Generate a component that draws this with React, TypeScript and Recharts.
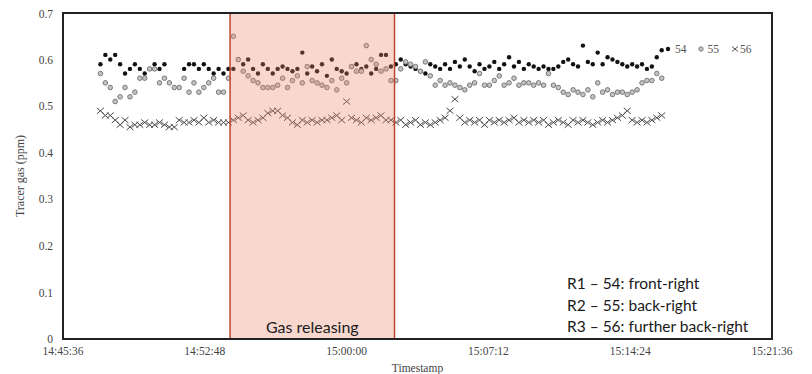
import React from 'react';
import { ScatterChart, Scatter, XAxis, YAxis, ReferenceArea, Label } from 'recharts';

// ---- data ----
const AXIS_START = '14:45:36';
const AXIS_END = '15:21:36';
const xTickLabels = ['14:45:36', '14:52:48', '15:00:00', '15:07:12', '15:14:24', '15:21:36'];
const yTickValues = [0, 0.1, 0.2, 0.3, 0.4, 0.5, 0.6, 0.7];
const FIRST_SAMPLE = '14:47:30';
const SAMPLE_SECONDS = 15;
const GAS_START = '14:54:05';
const GAS_END = '15:02:26';

const series54: (number | null)[] = [
  0.59, 0.61, 0.60, 0.61, 0.59, 0.57, 0.58, 0.59, 0.58, 0.57,
  0.58, 0.59, 0.58, 0.59, null, null, null, 0.58, 0.59, 0.59,
  0.58, 0.59, 0.58, 0.57, 0.58, 0.57,
  0.58, 0.58, 0.60, 0.59, 0.60, 0.58, 0.57, 0.59, 0.58, 0.57,
  0.58, 0.585, 0.58, 0.575, 0.58, 0.615, 0.57, 0.585, 0.575, 0.59,
  0.565, 0.60, 0.58, 0.575, 0.57, 0.585, 0.59, 0.58, 0.585, 0.57,
  0.58, 0.61, 0.61, 0.585,
  0.59, 0.60, 0.59, 0.585, 0.58, 0.575, 0.57, 0.59, 0.585, 0.58,
  0.59, 0.58, 0.595, 0.585, 0.60, 0.585, 0.575, 0.59, 0.58, 0.585,
  0.595, 0.58, 0.59, 0.605, 0.585, 0.595, 0.58,
  0.59, 0.585, 0.58, 0.585, 0.58, 0.58, 0.585, 0.595, 0.60, 0.59,
  0.585, 0.63, 0.595, 0.59, 0.615, 0.59, 0.605, 0.60, 0.595, 0.59,
  0.585, 0.59, 0.585, 0.59, 0.58, 0.585, 0.605, 0.62,
];

const series55: (number | null)[] = [
  0.57, 0.55, 0.54, 0.51, 0.52, 0.54, 0.52, 0.53, 0.56, 0.56,
  0.58, 0.58, 0.55, 0.56, 0.55, 0.54, 0.54, 0.56, 0.53, 0.55,
  0.53, 0.54, 0.55, 0.56, 0.53, 0.53,
  0.56, 0.65, 0.60, 0.575, 0.565, 0.555, 0.55, 0.54, 0.54, 0.54,
  0.545, 0.56, 0.54, 0.555, 0.565, 0.55, 0.585, 0.555, 0.55, 0.545,
  0.54, 0.555, 0.535, 0.56, 0.55, 0.585, 0.575, 0.575, 0.63, 0.60,
  0.59, 0.575, 0.58, 0.555,
  0.555, 0.58, 0.595, 0.59, 0.585, 0.575, 0.595, 0.565, 0.545, 0.555,
  0.545, 0.55, 0.545, 0.54, 0.535, 0.545, 0.55, 0.57, 0.545, 0.545,
  0.555, 0.565, 0.545, 0.55, 0.56, 0.545, 0.55,
  0.55, 0.545, 0.55, 0.545, 0.57, 0.545, 0.54, 0.53, 0.525, 0.535,
  0.53, 0.525, 0.535, 0.52, 0.55, 0.53, 0.535, 0.525, 0.53, 0.53,
  0.525, 0.53, 0.535, 0.55, 0.555, 0.555, 0.57, 0.56,
];

const series56: (number | null)[] = [
  0.49, 0.48, 0.48, 0.47, 0.46, 0.47, 0.455, 0.46, 0.46, 0.465,
  0.46, 0.46, 0.465, 0.46, 0.455, 0.455, 0.47, 0.465, 0.465, 0.47,
  0.465, 0.475, 0.465, 0.47, 0.465, 0.465,
  0.465, 0.47, 0.475, 0.48, 0.47, 0.465, 0.47, 0.475, 0.485, 0.49,
  0.49, 0.48, 0.475, 0.465, 0.46, 0.47, 0.465, 0.47, 0.465, 0.47,
  0.47, 0.475, 0.48, 0.47, 0.51, 0.475, 0.47, 0.465, 0.475, 0.47,
  0.475, 0.48, 0.47, 0.47,
  0.465, 0.47, 0.46, 0.465, 0.47, 0.46, 0.465, 0.46, 0.465, 0.47,
  0.475, 0.49, 0.515, 0.475, 0.465, 0.47, 0.465, 0.47, 0.46, 0.47,
  0.465, 0.47, 0.465, 0.47, 0.475, 0.465, 0.47,
  0.465, 0.47, 0.465, 0.47, 0.46, 0.465, 0.47, 0.465, 0.46, 0.47,
  0.465, 0.47, 0.465, 0.46, 0.465, 0.47, 0.465, 0.47, 0.475, 0.48,
  0.49, 0.47, 0.465, 0.47, 0.465, 0.47, 0.475, 0.48,
];

const legendNames = ['54', '55', '56'];
const noteLines = ['R1 – 54: front-right', 'R2 – 55: back-right', 'R3 – 56: further back-right'];
const gasLabel = 'Gas releasing';

// ---- helpers ----
const toSec = (s: string) => {
  const [h, m, sec] = s.split(':').map(Number);
  return h * 3600 + m * 60 + sec;
};
const pad = (n: number) => String(n).padStart(2, '0');
const fmt = (v: number) => `${Math.floor(v / 3600)}:${pad(Math.floor((v % 3600) / 60))}:${pad(v % 60)}`;

const build = (vals: (number | null)[]) => {
  const out: { t: number; v: number }[] = [];
  vals.forEach((v, i) => {
    if (v !== null) out.push({ t: toSec(FIRST_SAMPLE) + i * SAMPLE_SECONDS, v });
  });
  return out;
};

const d54 = build(series54);
const d55 = build(series55);
const d56 = build(series56);

const Dot54 = (p: any) => <circle cx={p.cx} cy={p.cy} r={2.2} fill="#111" />;
const Circ55 = (p: any) => <circle cx={p.cx} cy={p.cy} r={2.3} fill="#c4c4c4" stroke="#6e6e6e" strokeWidth={0.9} />;
const Cross56 = (p: any) => (
  <g stroke="#4a4a4a" strokeWidth={1}>
    <line x1={p.cx - 3.5} y1={p.cy - 3} x2={p.cx + 3.5} y2={p.cy + 3} />
    <line x1={p.cx - 3.5} y1={p.cy + 3} x2={p.cx + 3.5} y2={p.cy - 3} />
  </g>
);

const serif = '"Liberation Serif", "DejaVu Serif", serif';
const sans = 'Lato, "Open Sans", sans-serif';

export default function App() {
  const x0 = toSec(AXIS_START);
  const x1 = toSec(AXIS_END);
  return (
    <div style={{ position: 'relative', width: 804, height: 366 }}>
      <ScatterChart width={804} height={366} margin={{ top: 5, right: 40, bottom: 0, left: 0 }}>
        <XAxis
          type="number"
          dataKey="t"
          domain={[x0, x1]}
          ticks={xTickLabels.map(toSec)}
          tickFormatter={fmt}
          axisLine={false}
          tickLine={false}
          height={35}
          tickMargin={2}
          tick={{ fontFamily: serif, fontSize: 11.5, fill: '#444' }}
        >
          <Label value="Timestamp" position="insideBottom" offset={2} style={{ fontFamily: serif, fontSize: 11.5, fill: '#444' }} />
        </XAxis>
        <YAxis
          type="number"
          dataKey="v"
          domain={[0, 0.7]}
          ticks={yTickValues}
          tickFormatter={(v: number) => String(v)}
          axisLine={false}
          tickLine={false}
          width={55}
          tickMargin={4}
          tick={{ fontFamily: serif, fontSize: 11.5, fill: '#444' }}
        >
          <Label value="Tracer gas (ppm)" angle={-90} position="insideLeft" offset={12} style={{ fontFamily: serif, fontSize: 12, fill: '#444', textAnchor: 'middle' }} />
        </YAxis>
        <Scatter name={legendNames[0]} data={d54} shape={Dot54} isAnimationActive={false} />
        <Scatter name={legendNames[1]} data={d55} shape={Circ55} isAnimationActive={false} />
        <Scatter name={legendNames[2]} data={d56} shape={Cross56} isAnimationActive={false} />
        <ReferenceArea
          x1={toSec(GAS_START)}
          x2={toSec(GAS_END)}
          y1={0}
          y2={0.7}
          fill="#e8826a"
          fillOpacity={0.32}
          stroke="#c0442c"
          strokeOpacity={1}
          strokeWidth={1.5}
          ifOverflow="visible"
          zIndex={700}
        >
          <Label value={gasLabel} position="insideBottom" offset={6} style={{ fontFamily: sans, fontSize: 16, fill: '#1a1a1a' }} />
        </ReferenceArea>
        <ReferenceArea x1={x0} x2={x1} y1={0} y2={0.7} fill="none" stroke="#222" strokeWidth={2} ifOverflow="visible" zIndex={800} />
      </ScatterChart>
      {/* legend */}
      <div style={{ position: 'absolute', left: 656, top: 35, fontFamily: serif, fontSize: 11.5, color: '#555', display: 'flex', alignItems: 'center', whiteSpace: 'nowrap' }}>
        <svg width={8} height={8} style={{ marginRight: 3 }}><circle cx={4} cy={4} r={2.2} fill="#111" /></svg>
        <span style={{ marginRight: 10 }}>{legendNames[0]}</span>
        <svg width={8} height={8} style={{ marginRight: 3 }}><circle cx={4} cy={4} r={2.2} fill="#c4c4c4" stroke="#666" strokeWidth={0.8} /></svg>
        <span style={{ marginRight: 12 }}>{legendNames[1]}</span>
        <svg width={8} height={8} style={{ marginRight: 1 }}>
          <g stroke="#555" strokeWidth={1}><line x1={1} y1={1.5} x2={7} y2={6.5} /><line x1={1} y1={6.5} x2={7} y2={1.5} /></g>
        </svg>
        <span>{legendNames[2]}</span>
      </div>
      {/* annotation */}
      <div style={{ position: 'absolute', left: 559, top: 265, fontFamily: sans, fontSize: 15.5, color: '#1a1a1a', lineHeight: '21.5px', whiteSpace: 'nowrap' }}>
        {noteLines.map((l) => (
          <div key={l}>{l}</div>
        ))}
      </div>
    </div>
  );
}
